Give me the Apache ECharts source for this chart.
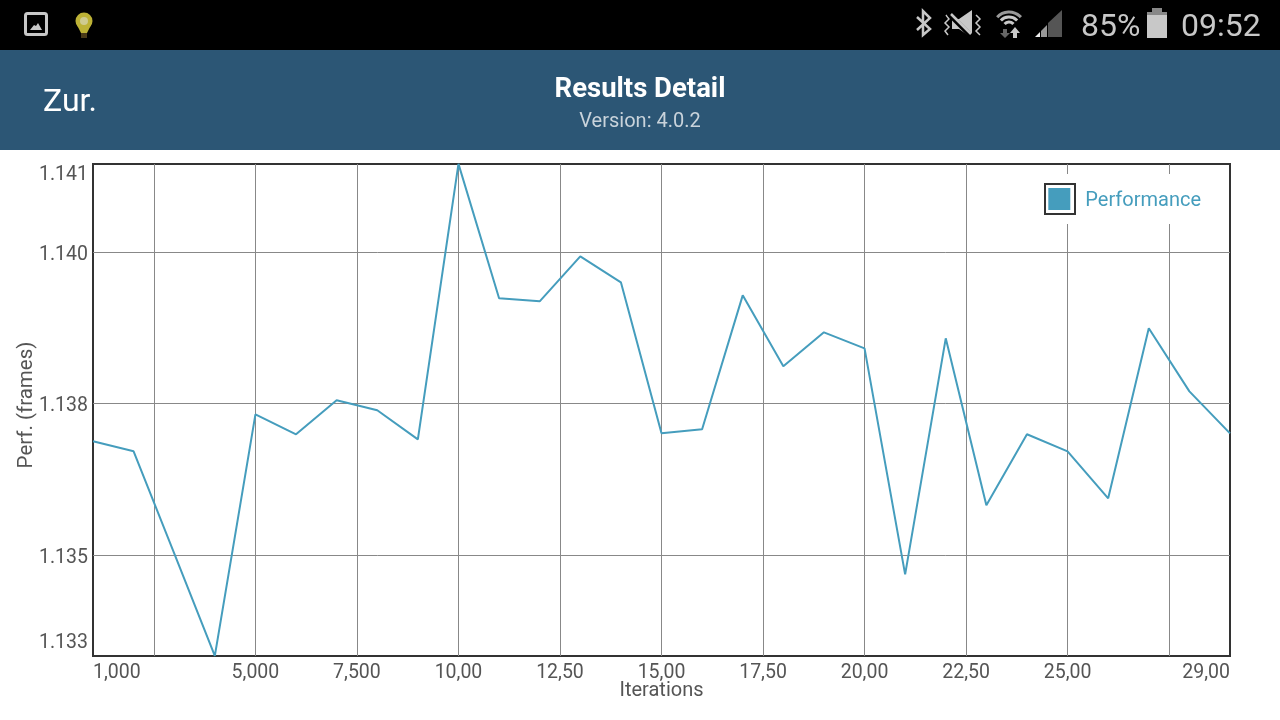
<!DOCTYPE html>
<html><head><meta charset="utf-8">
<style>html,body{margin:0;padding:0;background:#fff}#c{width:1280px;height:720px}</style>
<script src="https://cdn.jsdelivr.net/npm/echarts@6/dist/echarts.min.js"></script>
</head><body><div id="c"></div>
<script>
const iterations = [1000,2000,3000,4000,5000,6000,7000,8000,9000,10000,11000,12000,13000,14000,15000,16000,17000,18000,19000,20000,21000,22000,23000,24000,25000,26000,27000,28000,29000];
const performance = [1.136873,1.136708,1.135025,1.133333,1.137319,1.136989,1.13755,1.137385,1.136906,1.141452,1.139233,1.139183,1.139926,1.139497,1.137005,1.137071,1.139282,1.138111,1.138672,1.138408,1.134678,1.138573,1.135817,1.136989,1.136708,1.135933,1.138738,1.137698,1.137005];
const xGrid = [2500,5000,7500,10000,12500,15000,17500,20000,22500,25000,27500];
const xLabelValues = [1000,5000,7500,10000,12500,15000,17500,20000,22500,25000,29000];
const xLabelTexts = ['1,000','5,000','7,500','10,00','12,50','15,00','17,50','20,00','22,50','25,00','29,00'];
const yGrid = [1.135,1.1375,1.14];
const yLabelValues = [1.13360,1.135,1.1375,1.14,1.14132];
const yLabelTexts = ['1.133','1.135','1.138','1.140','1.141'];
const font = 'Roboto';
const chart = echarts.init(document.getElementById('c'),null,{renderer:'canvas'});
const grey='#c8c8c8';
chart.setOption({
  animation:false,
  backgroundColor:'#fff',
  textStyle:{fontFamily:font},
  grid:{left:93,top:164,width:1137,height:492,show:true,borderColor:'#333',borderWidth:2,backgroundColor:'transparent',containLabel:false,outerBoundsMode:'none'},
  xAxis:{type:'value',min:1000,max:29000,
    name:'Iterations',nameLocation:'middle',nameGap:25,nameMoveOverlap:false,nameTextStyle:{fontFamily:font,fontSize:20,color:'#555'},
    axisLine:{show:false},
    axisTick:{show:false,customValues:xGrid},
    splitLine:{show:true,lineStyle:{color:'#888',width:1}},
    axisLabel:{customValues:xLabelValues,fontFamily:font,fontSize:19.5,color:'#555',margin:7,hideOverlap:false,showMinLabel:true,showMaxLabel:true,alignMinLabel:'left',alignMaxLabel:'right',
      formatter:v=>xLabelTexts[xLabelValues.indexOf(v)]}},
  yAxis:{type:'value',min:1.13333,max:1.14145,
    name:'Perf. (frames)',nameLocation:'middle',nameGap:56,nameMoveOverlap:false,nameTextStyle:{fontFamily:font,fontSize:20.5,color:'#555',padding:[0,0,0,10]},
    axisLine:{show:false},
    axisTick:{show:false,customValues:yGrid},
    splitLine:{show:true,lineStyle:{color:'#888',width:1}},
    axisLabel:{customValues:yLabelValues,fontFamily:font,fontSize:19.5,color:'#555',margin:5,hideOverlap:false,verticalAlign:'top',lineHeight:6,
      formatter:v=>yLabelTexts[yLabelValues.indexOf(v)]}},
  legend:{show:true,right:59,top:174,orient:'horizontal',padding:[14,20,13,10],backgroundColor:'#fff',
    itemWidth:22,itemHeight:22,icon:'rect',
    formatter:'{a|{name}}',
    textStyle:{fontFamily:font,fontSize:20,color:'#459DBD',padding:[0,0,0,10],rich:{a:{fontFamily:font,fontSize:20,color:'#459DBD',padding:[4,0,0,0]}}},
    data:['Performance']},
  series:[{name:'Performance',type:'line',data:iterations.map((x,i)=>[x,performance[i]]),
    showSymbol:false,symbol:'none',lineStyle:{color:'#459DBD',width:2},itemStyle:{color:'#459DBD'},z:3}],
  graphic:[
    {type:'rect',silent:true,z:100,shape:{x:0,y:0,width:1280,height:50},style:{fill:'#000'}},
    {type:'rect',silent:true,z:100,shape:{x:0,y:50,width:1280,height:100},style:{fill:'#2C5675'}},
    {type:'text',z:101,style:{x:43,y:103,text:'Zur.',fill:'#fff',font:'32px Roboto',textVerticalAlign:'middle'}},
    {type:'text',z:101,style:{x:640,y:90,text:'Results Detail',fill:'#fff',font:'bold 27.5px Roboto',textAlign:'center',textVerticalAlign:'middle'}},
    {type:'text',z:101,style:{x:640,y:122,text:'Version: 4.0.2',fill:'#C9D3DB',font:'20px Roboto',textAlign:'center',textVerticalAlign:'middle'}},
    {type:'rect',z:101,shape:{x:1045,y:184,width:30,height:30},style:{fill:'none',stroke:'#333',lineWidth:2}},
    // image icon
    {type:'rect',z:101,shape:{x:25.5,y:13.5,width:21,height:21,r:2},style:{fill:'none',stroke:grey,lineWidth:3}},
    {type:'polygon',z:101,shape:{points:[[30,30],[34,25],[36,26],[38,23],[42,30]]},style:{fill:grey}},
    // bulb
    {type:'circle',z:101,shape:{cx:84,cy:21,r:8.5},style:{fill:'#BDB236'}},
    {type:'circle',z:102,shape:{cx:84,cy:21,r:4},style:{fill:'#CFCB90'}},
    {type:'polygon',z:101,shape:{points:[[77,25],[91,25],[87,33],[81,33]]},style:{fill:'#BDB236'}},
    {type:'rect',z:101,shape:{x:81,y:33,width:6,height:5},style:{fill:'#4a3a18'}},
    // bluetooth
    {type:'polyline',z:101,shape:{points:[[917,17],[930,29],[923,35],[923,11],[930,18],[917,30]]},style:{fill:'none',stroke:grey,lineWidth:2.5}},
    // muted speaker
    {type:'polygon',z:101,shape:{points:[[952,19],[959,19],[972,10],[972,38],[959,29],[952,29]]},style:{fill:grey}},
    {type:'line',z:102,shape:{x1:949,y1:14,x2:973,y2:38},style:{stroke:'#000',lineWidth:5}},
    {type:'line',z:103,shape:{x1:951,y1:14,x2:971,y2:34},style:{stroke:grey,lineWidth:2.5}},
    {type:'polyline',z:101,shape:{points:[[946,15],[949,19],[945,23],[949,27],[945,31],[948,35]]},style:{fill:'none',stroke:grey,lineWidth:1.5}},
    {type:'polyline',z:101,shape:{points:[[976,15],[980,19],[976,23],[980,27],[976,31],[980,35]]},style:{fill:'none',stroke:grey,lineWidth:1.5}},
    // wifi
    {type:'arc',z:101,shape:{cx:1009,cy:28,r:16,startAngle:-2.4,endAngle:-0.74},style:{fill:'none',stroke:'#999',lineWidth:3}},
    {type:'arc',z:101,shape:{cx:1009,cy:28,r:11,startAngle:-2.4,endAngle:-0.74},style:{fill:'none',stroke:grey,lineWidth:3}},
    {type:'arc',z:101,shape:{cx:1009,cy:28,r:6,startAngle:-2.4,endAngle:-0.74},style:{fill:'none',stroke:grey,lineWidth:3}},
    {type:'polygon',z:101,shape:{points:[[1003,29],[1007,29],[1007,33],[1010,33],[1005,38],[1000,33],[1003,33]]},style:{fill:'#666'}},
    {type:'polygon',z:101,shape:{points:[[1013,38],[1017,38],[1017,33],[1020,33],[1015,27],[1010,33],[1013,33]]},style:{fill:grey}},
    // signal
    {type:'polygon',z:101,shape:{points:[[1062,10],[1062,37],[1048,37],[1048,23]]},style:{fill:'#555'}},
    {type:'polygon',z:101,shape:{points:[[1047,25],[1047,37],[1041,37],[1041,31]]},style:{fill:'#999'}},
    {type:'polygon',z:101,shape:{points:[[1040,32],[1040,37],[1035,37]]},style:{fill:'#eee'}},
    {type:'text',z:101,style:{x:1081,y:28,text:'85%',fill:grey,font:'32px Roboto',textVerticalAlign:'middle'}},
    {type:'rect',z:101,shape:{x:1147,y:12,width:20,height:26},style:{fill:grey}},
    {type:'rect',z:101,shape:{x:1152,y:8,width:10,height:4},style:{fill:'#888'}},
    {type:'rect',z:101,shape:{x:1147,y:12,width:20,height:3},style:{fill:'#888'}},
    {type:'text',z:101,style:{x:1181,y:28,text:'09:52',fill:grey,font:'32px Roboto',textVerticalAlign:'middle'}}
  ]
});
</script></body></html>
